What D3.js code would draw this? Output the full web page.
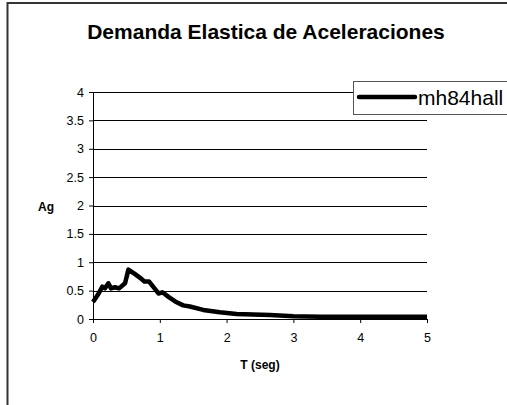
<!DOCTYPE html>
<html><head><meta charset="utf-8">
<script src="https://cdn.jsdelivr.net/npm/d3@7"></script>
<style>body{margin:0;background:#fff;overflow:hidden;}svg{display:block;font-family:"Liberation Sans",Arial,sans-serif;}</style>
</head><body>
<svg id="c" width="507" height="405"></svg>
<script>
const periods = [0, 0.08, 0.14, 0.18, 0.23, 0.27, 0.33, 0.39, 0.48, 0.53, 0.63, 0.70, 0.77, 0.84, 0.90, 0.98, 1.04, 1.13, 1.23, 1.35, 1.45, 1.65, 1.90, 2.15, 2.40, 2.65, 3.0, 3.4, 4.15, 5.0];
const accel   = [0.30, 0.44, 0.57, 0.54, 0.63, 0.54, 0.56, 0.54, 0.63, 0.87, 0.79, 0.73, 0.66, 0.66, 0.57, 0.45, 0.47, 0.39, 0.31, 0.24, 0.22, 0.16, 0.12, 0.09, 0.08, 0.07, 0.05, 0.04, 0.04, 0.04];
const yTicks = [0, 0.5, 1, 1.5, 2, 2.5, 3, 3.5, 4];
const xTicks = [0, 1, 2, 3, 4, 5];
const seriesName = "mh84hall";
const title = "Demanda Elastica de Aceleraciones";

const svg = d3.select("#c");
const x = d3.scaleLinear().domain([0, 5]).range([93, 427]);
const y = d3.scaleLinear().domain([0, 4]).range([319, 92]);

// frame
svg.append("rect").attr("x", 7.5).attr("y", 3).attr("width", 520).attr("height", 420)
  .attr("fill", "none").attr("stroke", "#333").attr("stroke-width", 2);

svg.append("text").attr("x", 266).attr("y", 39).attr("text-anchor", "middle")
  .attr("font-size", 21).attr("font-weight", "bold").text(title);

// gridlines
svg.append("g").selectAll("line").data(yTicks.filter(d => d > 0)).join("line")
  .attr("x1", x(0)).attr("x2", x(5)).attr("y1", d => Math.round(y(d)) + 0.5).attr("y2", d => Math.round(y(d)) + 0.5)
  .attr("stroke", "#000").attr("stroke-width", 1);

// axes
const ya = svg.append("g").attr("transform", `translate(${x(0)},0)`)
  .call(d3.axisLeft(y).tickValues(yTicks).tickFormat(d3.format("")).tickSize(4).tickPadding(5));
const xa = svg.append("g").attr("transform", `translate(0,${y(0)})`)
  .call(d3.axisBottom(x).tickValues(xTicks).tickFormat(d3.format("")).tickSize(4).tickPadding(10));
[ya, xa].forEach(a => {
  a.select(".domain").attr("stroke", "#000");
  a.selectAll(".tick line").attr("stroke", "#000");
  a.selectAll("text").attr("font-size", 12.5).attr("fill", "#000").attr("font-family", '"Liberation Sans",Arial,sans-serif');
});

svg.append("text").attr("x", 46).attr("y", 211).attr("text-anchor", "middle")
  .attr("font-size", 12).attr("font-weight", "bold").text("Ag");
svg.append("text").attr("x", 260).attr("y", 369).attr("text-anchor", "middle")
  .attr("font-size", 12).attr("font-weight", "bold").text("T (seg)");

// series
const data = periods.map((t, i) => ({t, a: accel[i]}));
svg.append("path").datum(data)
  .attr("fill", "none").attr("stroke", "#000").attr("stroke-width", 4.5).attr("stroke-linejoin", "round")
  .attr("d", d3.line().x(d => x(d.t)).y(d => y(d.a)));

// legend
const lg = svg.append("g");
lg.append("rect").attr("x", 353.5).attr("y", 81.5).attr("width", 200).attr("height", 33)
  .attr("fill", "#fff").attr("stroke", "#555").attr("stroke-width", 1);
lg.append("line").attr("x1", 359).attr("x2", 415).attr("y1", 97).attr("y2", 97)
  .attr("stroke", "#000").attr("stroke-width", 4.5).attr("stroke-linecap", "round");
lg.append("text").attr("x", 418).attr("y", 104.5).attr("font-size", 21).text(seriesName);
</script>
</body></html>
